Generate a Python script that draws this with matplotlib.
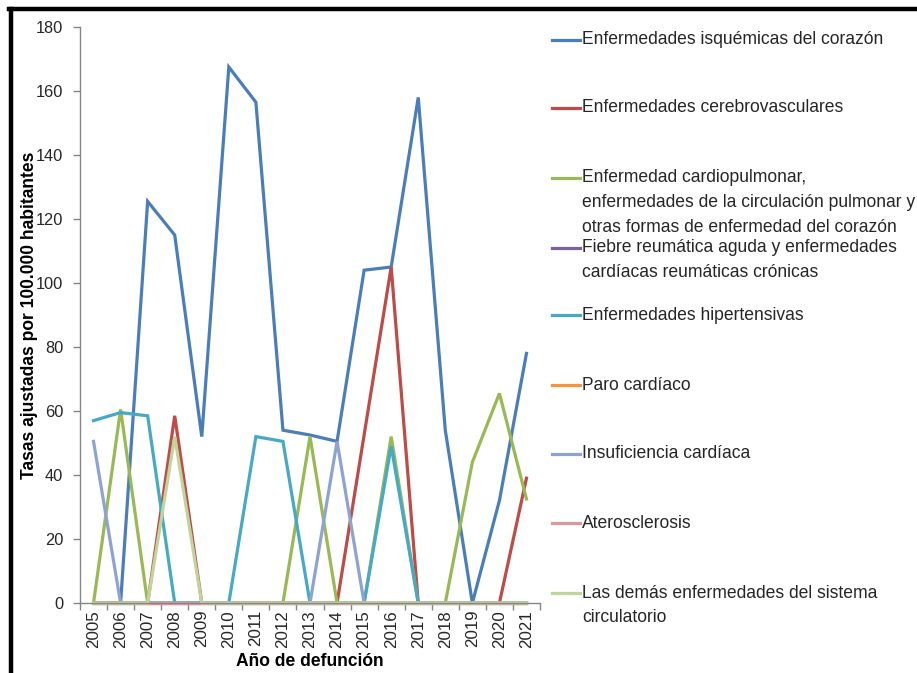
import matplotlib
matplotlib.use("Agg")
import matplotlib.pyplot as plt
from matplotlib.lines import Line2D
import numpy as np

plt.rcParams["font.family"] = ["Liberation Sans", "DejaVu Sans"]

# data
years = [str(y) for y in range(2005, 2022)]

isquemicas     = [0, 0, 125.5, 115, 52, 167.5, 156.5, 54, 52.5, 50.5, 104, 105, 158, 54, 0, 32, 78]
cerebrovasc    = [0, 0, 0, 58.5, 0, 0, 0, 0, 0, 0, 52.5, 105, 0, 0, 0, 0, 39]
cardiopulmonar = [0, 60.5, 0, 0, 0, 0, 0, 0, 52, 0, 0, 52, 0, 0, 44, 65.5, 32.5]
fiebre_reum    = [0] * 17
hipertensivas  = [57, 59.5, 58.5, 0, 0, 0, 52, 50.5, 0, 0, 0, 49, 0, 0, 0, 0, 0]
paro_cardiaco  = [0] * 17
insuficiencia  = [50.5, 0, 0, 0, 0, 0, 0, 0, 0, 50.5, 0, 0, 0, 0, 0, 0, 0]
aterosclerosis = [0] * 17
las_demas      = [0, 0, 0, 52, 0, 0, 0, 0, 0, 0, 0, 0, 0, 0, 0, 0, 0]

series = [
    ("Enfermedades isquémicas del corazón", isquemicas, "#4A7EBB"),
    ("Enfermedades cerebrovasculares", cerebrovasc, "#BE4B48"),
    ("Enfermedad cardiopulmonar,\nenfermedades de la circulación pulmonar y\notras formas de enfermedad del corazón", cardiopulmonar, "#98B954"),
    ("Fiebre reumática aguda y enfermedades\ncardíacas reumáticas crónicas", fiebre_reum, "#7D60A0"),
    ("Enfermedades hipertensivas", hipertensivas, "#46AAC5"),
    ("Paro cardíaco", paro_cardiaco, "#F69240"),
    ("Insuficiencia cardíaca", insuficiencia, "#8FA3D2"),
    ("Aterosclerosis", aterosclerosis, "#DB9A99"),
    ("Las demás enfermedades del sistema\ncirculatorio", las_demas, "#C0D59C"),
]

W, H = 917, 673
fig = plt.figure(figsize=(W / 100, H / 100), dpi=100)
fig.set_facecolor("white")

def fx(px):
    return px / W

def fy(py):
    return 1 - py / H

ax = fig.add_axes([fx(80), fy(603), 460 / W, 576 / H])
x = np.arange(len(years))
for label, vals, color in series:
    ax.plot(x, vals, color=color, lw=2.3, clip_on=False, solid_joinstyle="miter")

ax.set_xlim(-0.5, len(years) - 0.5)
ax.set_ylim(0, 180)
ax.set_yticks(np.arange(0, 181, 20))
ax.set_xticks(x)
ax.set_xticklabels(years, rotation=90, fontsize=12.2, color="#262626")
ax.set_xticks(np.arange(-0.5, len(years), 1), minor=True)
ax.tick_params(axis="x", which="major", length=0, pad=5)
ax.tick_params(axis="x", which="minor", length=5, color="#868686", width=1)
ax.tick_params(axis="y", length=5, color="#868686", width=1, pad=7, labelsize=11.8, labelcolor="#262626")

for s in ["top", "right"]:
    ax.spines[s].set_visible(False)
for s in ["left", "bottom"]:
    ax.spines[s].set_color("#868686")
    ax.spines[s].set_linewidth(1)

ax.set_ylabel("Tasas ajustadas por 100.000 habitantes", fontsize=12.65, fontweight="bold")
ax.yaxis.set_label_coords(-0.092, 0.5)
ax.set_xlabel("Año de defunción", fontsize=12.65, fontweight="bold")
ax.xaxis.set_label_coords(0.5, -0.087)

# legend drawn by hand to keep the uneven spacing of the original
first_line_y = [40, 108, 178, 248, 315, 385, 454, 523, 593]
line_step = 24.5
for (label, vals, color), y0 in zip(series, first_line_y):
    fig.add_artist(Line2D([fx(552), fx(580)], [fy(y0), fy(y0)], color=color, lw=2.3))
    for k, part in enumerate(label.split("\n")):
        fig.text(fx(582), fy(y0 + k * line_step), part, fontsize=12.65,
                 color="#262626", ha="left", va="center")

# thick black frame, only top and left edges are in view
fig.add_artist(Line2D([fx(10.5), fx(10.5)], [fy(9), 0], color="black", lw=3.2))
fig.add_artist(Line2D([fx(9), 1], [fy(9), fy(9)], color="black", lw=3.2))

plt.savefig("out.png", dpi=100)
